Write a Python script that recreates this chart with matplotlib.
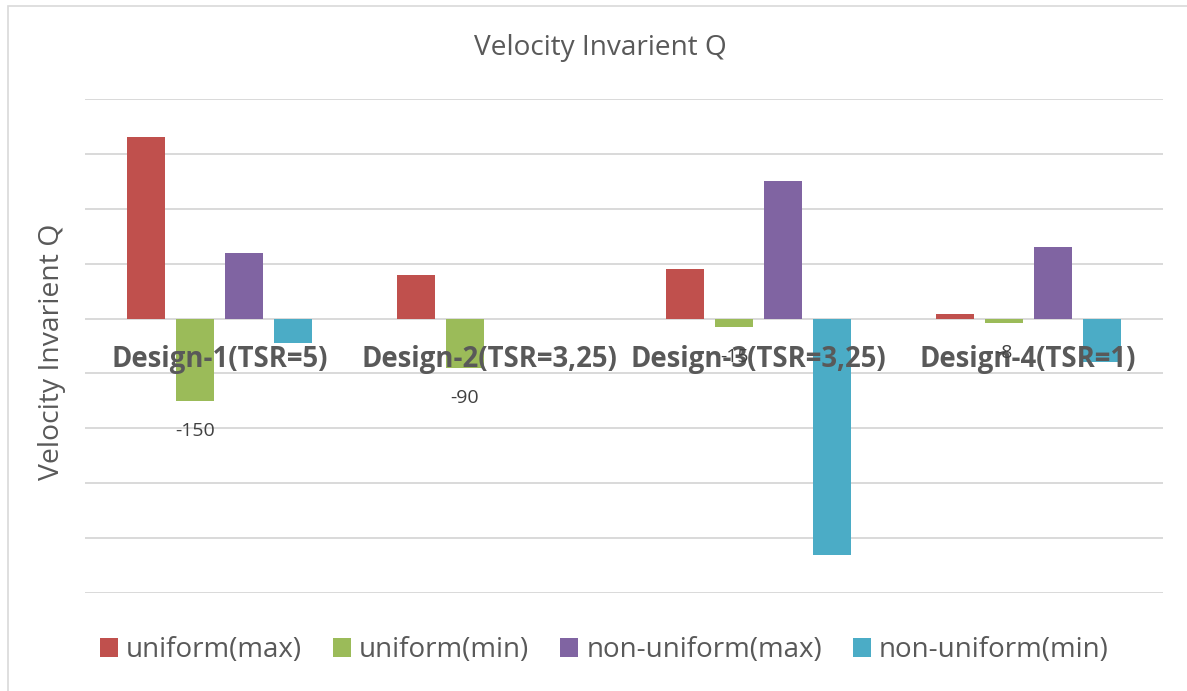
import numpy as np
import matplotlib
matplotlib.use("Agg")
import matplotlib.pyplot as plt
from matplotlib.patches import Patch, Rectangle

plt.rcParams["font.family"] = ["Open Sans", "DejaVu Sans"]

# data
designs = ["Design-1(TSR=5)", "Design-2(TSR=3,25)", "Design-3(TSR=3,25)", "Design-4(TSR=1)"]
series = ["uniform(max)", "uniform(min)", "non-uniform(max)", "non-uniform(min)"]
uniform_max = [330, 80, 90, 8]
uniform_min = [-150, -90, -15, -8]
nonuniform_max = [120, 0, 250, 130]
nonuniform_min = [-45, 0, -430, -80]
values = [uniform_max, uniform_min, nonuniform_max, nonuniform_min]
colors = ["#C0504D", "#9BBB59", "#8064A2", "#4BACC6"]

GRAY = "#595959"
GRID = "#D9D9D9"

fig = plt.figure(figsize=(11.87, 6.91), dpi=100)
ax = fig.add_axes([85 / 1187, 1 - 593 / 691, 1078 / 1187, 494 / 691])

x = np.arange(len(designs))
step, width = 0.182, 0.141
containers = []
for k, (vals, c) in enumerate(zip(values, colors)):
    bc = ax.bar(x + (k - 1.5) * step, vals, width, color=c, zorder=3, linewidth=0)
    containers.append(bc)

# only the uniform(min) series carries data labels
ax.bar_label(containers[1], labels=[f"{v:g}" for v in uniform_min], padding=15,
             fontsize=14, color="#404040", zorder=5)

ax.set_xlim(-0.5, 3.5)
ax.set_ylim(-500, 400)
ax.set_yticks(np.arange(-500, 401, 100))
ax.set_yticklabels([])
ax.set_xticks([])
ax.tick_params(length=0)
ax.grid(axis="y", color=GRID, lw=1.4, zorder=0)
for s in ax.spines.values():
    s.set_visible(False)

# category labels sit on the zero axis, over the bars
for i, name in enumerate(designs):
    ax.text(i, -74, name, ha="center", va="center", fontsize=19.8,
            fontweight="bold", color=GRAY, zorder=4)

ax.set_ylabel("Velocity Invarient Q", fontsize=20.4, color=GRAY)
ax.yaxis.set_label_coords(-0.018, 0.488)

fig.text(0.506, 1 - 48 / 691, "Velocity Invarient Q", ha="center", va="center",
         fontsize=20.2, color=GRAY)

handles = [Patch(facecolor=c, edgecolor="none") for c in colors]
leg = fig.legend(handles, series, loc="center", bbox_to_anchor=(0.509, 1 - 650 / 691),
                 ncol=4, frameon=False, fontsize=20, handlelength=0.65, handleheight=0.65,
                 handletextpad=0.3, columnspacing=1.1, labelcolor=GRAY)

# light chart border
fig.patches.append(Rectangle((8 / 1187, -0.1), 1.2, 1 - 6 / 691 + 0.1,
                             transform=fig.transFigure, fill=False,
                             edgecolor="#D9D9D9", lw=1.2))

fig.savefig("out.png", dpi=100, facecolor="white")
